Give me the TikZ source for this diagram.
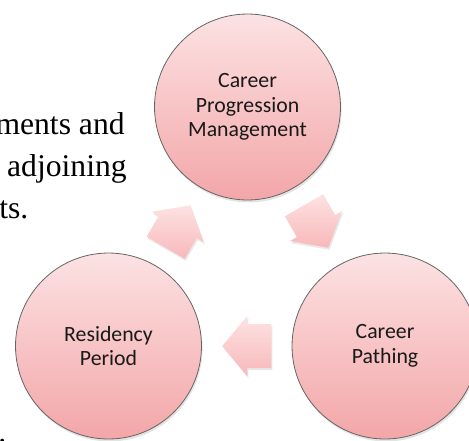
\documentclass[tikz,border=0pt]{standalone}
\usepackage{fontspec}
\setmainfont{Carlito}
\newfontfamily\bodyserif{Liberation Serif}
\usepackage{xcolor}
\usepackage{tikz}
\usetikzlibrary{calc,shadows}
\definecolor{pinktop}{RGB}{252,226,227}
\definecolor{pinkbot}{RGB}{243,166,168}
\definecolor{arrtop}{RGB}{253,226,226}
\definecolor{arrbot}{RGB}{248,184,186}
\definecolor{rimc}{RGB}{100,100,100}

\begin{document}
\begin{tikzpicture}[x=0.02cm,y=-0.02cm,
  stage/.style={circle,draw=rimc,line width=.45pt,minimum size=3.72cm,inner sep=0pt,
    top color=pinktop,bottom color=pinkbot,align=center,
    font=\fontsize{12.4}{13.9}\selectfont,text=black!90,
    drop shadow={opacity=.22,shadow xshift=.6pt,shadow yshift=-1.4pt}},
  flow/.style={top color=arrtop,bottom color=arrbot,
    drop shadow={opacity=.18,shadow xshift=.6pt,shadow yshift=-1.2pt}},
  bodytxt/.style={font=\bodyserif\fontsize{18}{24}\selectfont,inner sep=0pt}]
  \useasboundingbox (0,0) rectangle (469,440);
  % cut-off paragraph on the left
  \node[bodytxt,anchor=base east] (l1) at (125,134) {ments and};
  \node[bodytxt,anchor=base east] (l2) at (127,176) {adjoining};
  \node[bodytxt,anchor=base west] (l3) at (-1,218) {ts.};
  \node[bodytxt,anchor=base west] (l4) at (-2,442) {.};
  % the three stages
  \node[stage] (prog) at (247.5,107) {Career\\Progression\\Management};
  \node[stage] (pathing) at (385,346) {Career\\Pathing};
  \node[stage] (resid) at (108.5,346) {Residency\\Period};
  % block arrows halfway between the stages
  \foreach \from/\to in {prog/pathing,pathing/resid,resid/prog} {
    \coordinate (mid) at ($(\from)!.5!(\to)$);
    \coordinate (hb) at ($(mid)!-.01cm!(\to)$);
    \coordinate (tl) at ($(mid)!-.49cm!(\to)$);
    \path[flow] ($(mid)!.49cm!(\to)$) -- ($(hb)!.6cm!90:(\to)$) -- ($(hb)!.44cm!90:(\to)$)
      -- ($(tl)!.44cm!90:(\to)$) -- ($(tl)!.44cm!-90:(\to)$) -- ($(hb)!.44cm!-90:(\to)$)
      -- ($(hb)!.6cm!-90:(\to)$) -- cycle;
  }
\end{tikzpicture}
\end{document}
